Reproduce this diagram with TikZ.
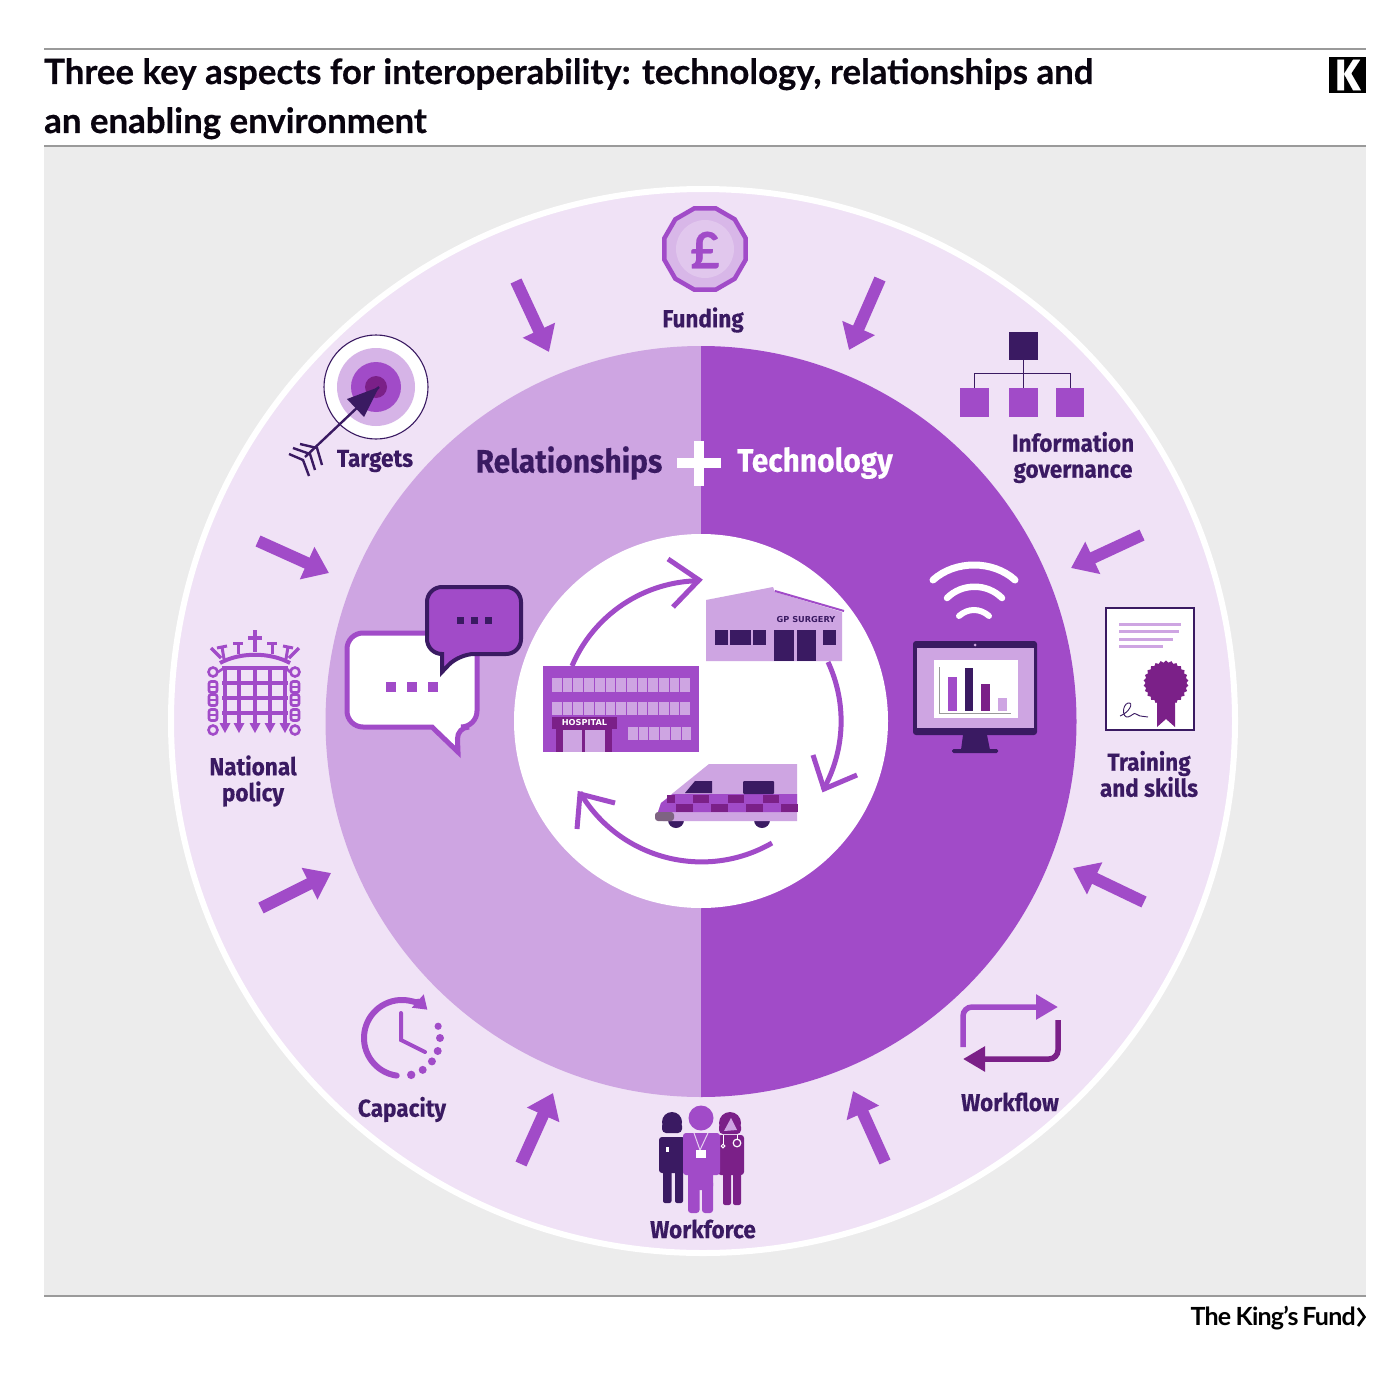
\documentclass[tikz,border=0pt]{standalone}
\usepackage{fontspec}
\setmainfont[BoldFeatures={FakeBold=0.5}]{Lato}
\newfontfamily\labelfont[FakeStretch=0.92,BoldFeatures={FakeBold=0.3}]{Fira Sans}
\newfontfamily\kfundfont[LetterSpace=-3]{Lato}
\newfontfamily\signfont{DejaVu Sans}
\usepackage{tikz}
\usetikzlibrary{arrows.meta,shapes.geometric}
\definecolor{panelgrey}{HTML}{ECECEC}
\definecolor{palelilac}{HTML}{F0E2F6}
\definecolor{softlilac}{HTML}{CEA5E2}
\definecolor{midpurple}{HTML}{A14BC8}
\definecolor{darkpurple}{HTML}{3A1A62}
\definecolor{plum}{HTML}{7B2088}
\definecolor{rulegrey}{HTML}{9A9A9A}

\begin{document}
\begin{tikzpicture}[x=1pt,y=1pt]
\tikzstyle{every node}+=[inner sep=0pt]
\tikzstyle{rule}=[rulegrey,line width=1.2pt]
\tikzstyle{outerlabel}=[darkpurple,align=center,font=\labelfont\bfseries\fontsize{24.5}{26}\selectfont]
\tikzstyle{halflabel}=[font=\labelfont\bfseries\fontsize{32.5}{36}\selectfont]
\tikzstyle{titleline}=[anchor=base west,black!85!darkpurple,font=\bfseries\fontsize{34.8}{40}\selectfont]
\tikzstyle{signtext}=[font=\signfont\bfseries\fontsize{8.2}{9}\selectfont]
\tikzstyle{inarrow}=[midpurple,line width=12pt,-{Triangle[width=34pt,length=24pt]}]
\tikzstyle{cyclearrow}=[midpurple,line width=5pt]
\useasboundingbox (0,0) rectangle (1400,-1375);
\fill [white] (0,0) rectangle (1400,-1375);
\fill [panelgrey] (44,-146) rectangle (1366,-1296);
\draw [rule] (44,-49) -- (1366,-49);
\draw [rule] (44,-146) -- (1366,-146);
\draw [rule] (44,-1296) -- (1366,-1296);
\node (titletop) [titleline] at (44,-84) {Three key aspects for interoperability: technology, relationships and};
\node (titlelow) [titleline] at (44,-133) {an enabling environment};
\fill [black] (1329,-57) rectangle (1366,-93);
\node (klogo) [white,font=\labelfont\bfseries\fontsize{44}{44}\selectfont] at (1347.5,-75) {K};
\node (kingsfund) [anchor=base east,black,font=\kfundfont\bfseries\fontsize{25}{25}\selectfont] at (1356,-1325) {The\hspace{-1pt} King’s\hspace{-1.5pt} Fund};
\draw [black,line width=2.6pt] (1358,-1308) -- (1364.5,-1317) -- (1358,-1326);

% rings
\draw [white,fill=palelilac,line width=6pt] (703,-721) circle (532);
\fill [softlilac] (701,-346) arc (90:270:375.5) -- cycle;
\fill [midpurple] (701,-346) arc (90:-90:375.5) -- cycle;
\fill [white] (701,-721) circle (187);

% arrows into the ring
\coordinate (fromtl) at (516,-281);
\coordinate (totl) at (549,-352);
\coordinate (fromtr) at (880,-279);
\coordinate (totr) at (849,-350);
\coordinate (fromru) at (1142,-535);
\coordinate (toru) at (1071,-568);
\coordinate (fromrl) at (1144,-902);
\coordinate (torl) at (1073,-868);
\coordinate (frombr) at (885,-1162);
\coordinate (tobr) at (853,-1091);
\coordinate (frombl) at (521,-1164);
\coordinate (tobl) at (553,-1093);
\coordinate (fromll) at (261,-908);
\coordinate (toll) at (331,-873);
\coordinate (fromlu) at (258,-541);
\coordinate (tolu) at (329,-573);
\draw [inarrow] (fromtl) -- (totl);
\draw [inarrow] (fromtr) -- (totr);
\draw [inarrow] (fromru) -- (toru);
\draw [inarrow] (fromrl) -- (torl);
\draw [inarrow] (frombr) -- (tobr);
\draw [inarrow] (frombl) -- (tobl);
\draw [inarrow] (fromll) -- (toll);
\draw [inarrow] (fromlu) -- (tolu);

% labels
\node (funding) [outerlabel] at (703,-320) {Funding};
\node (infogov) [outerlabel] at (1073,-457.5) {Information\\governance};
\node (training) [outerlabel] at (1149,-774) {Training\\and skills};
\node (workflow) [outerlabel] at (1010,-1102) {Workflow};
\node (workforce) [outerlabel] at (703,-1229) {Workforce};
\node (capacity) [outerlabel] at (402,-1109.5) {Capacity};
\node (natpolicy) [outerlabel] at (253,-781) {National\\policy};
\node (targets) [outerlabel] at (375,-461) {Targets};
\node (relationships) [halflabel,darkpurple] at (569,-463) {Relationships};
\node (technology) [halflabel,white] at (815,-463) {Technology};
\fill [white] (677,-458) rectangle (721,-468);
\fill [white] (694,-441) rectangle (704,-486);

% funding
\node (coin) [regular polygon,regular polygon sides=12,minimum size=84pt,fill=softlilac!70!palelilac,draw=midpurple,line width=4.5pt] at (705,-249) {};
\fill [softlilac!45!palelilac] (705,-249) circle (29);
\node (pound) [midpurple,font=\bfseries\fontsize{50}{50}\selectfont] at (705,-250) {£};

% targets
\draw [darkpurple,fill=white,line width=1.1pt] (376,-387) circle (52);
\fill [softlilac!75!palelilac] (376,-387) circle (39);
\fill [midpurple] (376,-387) circle (25);
\fill [plum] (376,-387) circle (11);
\draw [darkpurple,line width=2.4pt] (379,-387) -- (305,-457);
\fill [darkpurple] (379,-387) -- (347,-399) -- (364,-417) -- cycle;
\draw [darkpurple,line width=2.4pt] (300,-444) -- (317,-448) -- (322,-465);
\draw [darkpurple,line width=2.4pt] (293,-448) -- (310,-454) -- (315,-470);
\draw [darkpurple,line width=2.4pt] (289,-454) -- (303,-460) -- (309,-476);

% national policy
\foreach \gx in {225,239,255,270,285} {
\draw [midpurple,line width=3.5pt] (\gx,-666) -- (\gx,-726);
\fill [midpurple] (\gx-5.5,-723) -- (\gx+5.5,-723) -- (\gx,-733) -- cycle;
}
\foreach \gy in {668,683,698,713} {
\draw [midpurple,line width=3.5pt] (222,-\gy) -- (288,-\gy);
}
\foreach \cx in {213,295} {
\draw [midpurple,line width=2.6pt] (\cx,-672) circle (4.5);
\draw [midpurple,line width=2.6pt] (\cx,-730) circle (4.5);
\foreach \cy in {687,700,715} {
\draw [midpurple,line width=2.6pt,rounded corners=2] (\cx-4,-\cy-5.5) rectangle (\cx+4,-\cy+5.5);
\draw [midpurple,line width=2.6pt] (\cx-4,-\cy) -- (\cx+4,-\cy);
}
}
\draw [midpurple,line width=2.6pt] (218,-672) -- (224,-668);
\draw [midpurple,line width=2.6pt] (290,-672) -- (286,-668);
\draw [midpurple,line width=4pt] (220,-663) .. controls (240,-652) and (270,-652) .. (290,-663);
\draw [midpurple,line width=3.5pt] (255,-630) -- (255,-652);
\draw [midpurple,line width=3.5pt] (248,-638) -- (262,-638);
\foreach \tx in {238,272} {
\draw [midpurple,line width=3pt] (\tx,-642) -- (\tx,-654);
\draw [midpurple,line width=3pt] (\tx-5,-643) -- (\tx+5,-643);
}
\draw [midpurple,line width=3pt] (222,-647) -- (224,-659);
\draw [midpurple,line width=3pt] (217,-648) -- (227,-646);
\draw [midpurple,line width=3pt] (288,-647) -- (286,-659);
\draw [midpurple,line width=3pt] (293,-648) -- (283,-646);
\draw [midpurple,line width=3.5pt] (211,-648) -- (221,-658);
\draw [midpurple,line width=3.5pt] (299,-648) -- (289,-658);

% information governance
\fill [darkpurple] (1009,-332) rectangle (1038,-360);
\fill [midpurple] (960,-388) rectangle (989,-417);
\fill [midpurple] (1009,-388) rectangle (1038,-417);
\fill [midpurple] (1056,-388) rectangle (1084,-417);
\draw [darkpurple,line width=1.3pt] (1023.5,-360) -- (1023.5,-388);
\draw [darkpurple,line width=1.3pt] (974.5,-388) -- (974.5,-373.5) -- (1070.5,-373.5) -- (1070.5,-388);

% training and skills
\draw [darkpurple,fill=white,line width=1.1pt] (1106,-608) rectangle (1194,-730);
\draw [softlilac,line width=3pt] (1119,-624) -- (1181,-624);
\draw [softlilac,line width=3pt] (1119,-631) -- (1179,-631);
\draw [softlilac,line width=3pt] (1119,-639) -- (1173,-639);
\draw [softlilac,line width=3pt] (1119,-646) -- (1163,-646);
\fill [plum] (1157,-700) -- (1175,-700) -- (1175,-727) -- (1166,-719) -- (1157,-727) -- cycle;
\node (seal) [star,star points=26,star point ratio=1.1,minimum size=45pt,fill=plum] at (1166,-683) {};
\draw [darkpurple,line width=0.9pt] (1120,-716) .. controls (1130,-712) and (1134,-702) .. (1128,-703) .. controls (1122,-705) and (1122,-718) .. (1128,-717) .. controls (1132,-716) and (1134,-712) .. (1136,-714) .. controls (1138,-716) and (1140,-716) .. (1148,-717);

% technology icon
\draw [white,line width=7pt,line cap=round] (933,-580) .. controls (955,-560) and (993,-560) .. (1015,-580);
\draw [white,line width=6.5pt,line cap=round] (947,-598) .. controls (962,-583) and (987,-583) .. (1002,-598);
\draw [white,line width=6pt,line cap=round] (959,-616) .. controls (968,-608) and (980,-608) .. (989,-616);
\fill [darkpurple] (963,-735) -- (987,-735) -- (990,-750) -- (961,-750) -- cycle;
\fill [darkpurple,rounded corners=1.5] (952,-749) rectangle (998,-753);
\fill [darkpurple,rounded corners=3] (913,-641) rectangle (1037,-735);
\fill [softlilac] (917,-648) rectangle (1034,-728);
\fill [softlilac] (975,-645) circle (1.5);
\fill [white] (934,-660) rectangle (1018,-718);
\draw [rulegrey,line width=0.8pt] (939,-667) -- (939,-713) -- (1011,-713);
\fill [midpurple] (948,-677) rectangle (957,-711);
\fill [darkpurple] (965,-668) rectangle (973,-711);
\fill [plum] (981,-684) rectangle (990,-711);
\fill [softlilac] (998,-698) rectangle (1007,-711);

% speech bubbles
\draw [midpurple,fill=white,line width=5pt,miter limit=6] (458,-752) [sharp corners] -- (432,-727) [rounded corners=16] -- (347,-727) -- (347,-633) -- (477,-633) -- (477,-727) [rounded corners=12] -- (457,-727) [sharp corners] -- cycle;
\fill [midpurple] (386,-682) rectangle (396,-692);
\fill [midpurple] (407,-682) rectangle (417,-692);
\fill [midpurple] (428,-682) rectangle (438,-692);
\draw [darkpurple,fill=midpurple,line width=4pt] (442,-672) [sharp corners] -- (442,-654) [rounded corners=15] -- (427,-654) -- (427,-587) -- (521,-587) -- (521,-654) -- (459,-654) [sharp corners] -- cycle;
\fill [darkpurple] (456.5,-616.5) rectangle (463.5,-623.5);
\fill [darkpurple] (470.5,-616.5) rectangle (477.5,-623.5);
\fill [darkpurple] (484.5,-616.5) rectangle (491.5,-623.5);

% hospital
\fill [midpurple] (543,-666) rectangle (699,-752);
\foreach \wx in {0,...,12} {
\fill [softlilac] (552+\wx*10.7,-678) rectangle (561.7+\wx*10.7,-692);
\fill [softlilac] (552+\wx*10.7,-702) rectangle (561.7+\wx*10.7,-715);
}
\foreach \wx in {0,...,5} {
\fill [softlilac] (628+\wx*10.7,-727) rectangle (637.7+\wx*10.7,-740);
}
\fill [plum] (556,-729) rectangle (612,-752);
\fill [softlilac] (563,-730) rectangle (582,-752);
\fill [softlilac] (585,-730) rectangle (605,-752);
\fill [plum] (552,-717) rectangle (617,-729);
\node (hospital) [signtext,white] at (584.5,-723) {HOSPITAL};

% gp surgery
\fill [softlilac] (706,-600) -- (773,-587) -- (775,-592) -- (842,-612) -- (842,-661) -- (706,-661) -- cycle;
\draw [midpurple,line width=2pt] (775,-591) -- (844,-611);
\fill [darkpurple] (715,-630) rectangle (728,-645);
\fill [darkpurple] (730,-630) rectangle (751,-645);
\fill [darkpurple] (753,-630) rectangle (766,-645);
\fill [darkpurple] (774,-630) rectangle (794,-661);
\fill [darkpurple] (797,-630) rectangle (816,-661);
\fill [darkpurple] (823,-630) rectangle (836,-645);
\node (gpsurgery) [signtext,darkpurple] at (806,-620) {GP SURGERY};

% ambulance
\fill [darkpurple] (676,-820) circle (8);
\fill [darkpurple] (762,-820) circle (8);
\fill [softlilac] (709,-764) -- (797,-764) -- (797,-821) -- (663,-821) -- (658,-812) -- (661,-803) -- (673,-793) -- cycle;
\fill [midpurple] (673,-794) -- (797,-794) -- (797,-812) -- (658,-812) -- (661,-803) -- cycle;
\fill [plum] (667,-795) rectangle (675,-803);
\foreach \cx in {693,728,763} {
\fill [plum] (\cx,-795) rectangle (\cx+16,-803);
}
\foreach \cx in {676,711,746,781} {
\fill [plum] (\cx,-804) rectangle (\cx+16.5,-812);
}
\fill [darkpurple] (685,-793) -- (695,-781) -- (712,-781) -- (712,-793) -- cycle;
\fill [darkpurple,rounded corners=1] (743,-781) rectangle (774,-794);
\fill [gray!70!plum,rounded corners=3] (655,-812) rectangle (674,-821);

% arrows of the cycle
\coordinate (hospitaltop) at (572,-666);
\coordinate (surgerybase) at (828,-662);
\coordinate (ambulancebase) at (772,-843);
\draw [cyclearrow] (hospitaltop) arc (157:90.4:140);
\draw [cyclearrow] (668,-559) -- (699,-580) -- (673,-607);
\draw [cyclearrow] (surgerybase) arc (25:-29.5:140);
\draw [cyclearrow] (813,-755) -- (824,-789) -- (857,-775);
\draw [cyclearrow] (ambulancebase) arc (-60:-149.5:141);
\draw [cyclearrow] (615,-803) -- (580,-794) -- (577,-829);

% capacity
\draw [midpurple,line width=6pt,line cap=round,-{Triangle[width=17pt,length=13pt]}] (396.7,-1075.6) arc (262:48:38);
\foreach \da/\dr in {18/3.6,0/4,-20/4,-38/4,-57/4,-76/4.2} {
\fill [midpurple] (402,-1038) ++(\da:38) circle (\dr);
}
\draw [midpurple,line width=4pt,line cap=round] (401,-1013) -- (401,-1040) -- (425,-1052);

% workflow
\draw [midpurple,line width=5.5pt,rounded corners=9,-{Triangle[width=24pt,length=22pt]}] (963,-1047) -- (963,-1007) -- (1058,-1007);
\draw [plum,line width=5.5pt,rounded corners=9,-{Triangle[width=24pt,length=22pt]}] (1058,-1020) -- (1058,-1059) -- (963,-1059);

% workforce
\fill [darkpurple,rounded corners=4] (662,-1122) rectangle (682,-1133);
\fill [darkpurple] (672,-1122) circle (10);
\fill [darkpurple,rounded corners=3] (659,-1137) rectangle (685,-1173);
\fill [darkpurple,rounded corners=2] (663,-1165) rectangle (671.5,-1203);
\fill [darkpurple,rounded corners=2] (675,-1165) rectangle (683,-1203);
\fill [white] (666,-1147) rectangle (669,-1152);
\fill [plum,rounded corners=4] (719,-1123) rectangle (741,-1134);
\fill [plum] (730,-1123) circle (11);
\fill [softlilac] (731,-1118) -- (737,-1130) -- (724,-1131) -- cycle;
\fill [plum,rounded corners=3] (718,-1135) rectangle (744,-1175);
\fill [plum,rounded corners=2] (723,-1165) rectangle (731,-1205);
\fill [plum,rounded corners=2] (733,-1165) rectangle (741,-1205);
\draw [white,line width=1pt] (723,-1135) -- (723,-1144);
\draw [white,line width=1pt] (723,-1146) circle (1.8);
\draw [white,line width=1pt] (737,-1135) -- (737,-1139);
\draw [white,line width=1.2pt] (737,-1143) circle (3.8);
\fill [midpurple] (701,-1118) circle (12.5);
\fill [midpurple,rounded corners=3] (683,-1133) rectangle (720,-1175);
\fill [midpurple,rounded corners=4] (688,-1160) rectangle (713,-1190);
\fill [midpurple,rounded corners=3] (688,-1180) rectangle (699.5,-1213);
\fill [midpurple,rounded corners=3] (702,-1180) rectangle (713,-1213);
\draw [white!75!midpurple,line width=1pt] (694,-1133) -- (700,-1150) -- (708,-1133);
\fill [white] (696,-1150) rectangle (706,-1158);
\end{tikzpicture}
\end{document}
